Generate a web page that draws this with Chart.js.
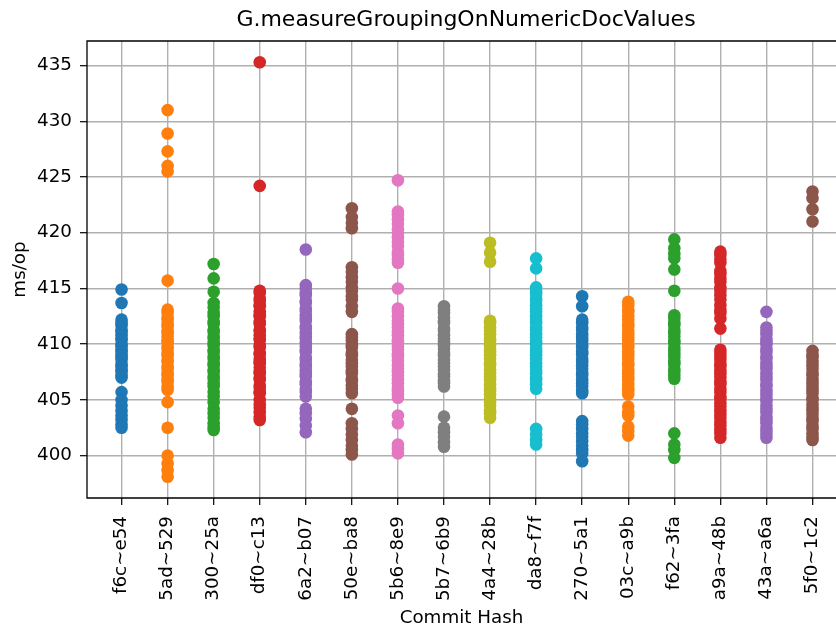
<!DOCTYPE html>
<html>
<head>
<meta charset="utf-8">
<script src="https://cdn.jsdelivr.net/npm/chart.js@4"></script>
<style>
  html, body { margin: 0; padding: 0; background: #fff; overflow: hidden; }
  #wrap { width: 836px; height: 631px; }
</style>
</head>
<body>
<div id="wrap"><canvas id="c" width="836" height="631"></canvas></div>
<script>
// Commit ranges on the x axis
const commits = ['f6c~e54', '5ad~529', '300~25a', 'df0~c13', '6a2~b07', '50e~ba8', '5b6~8e9', '5b7~6b9',
                 '4a4~28b', 'da8~f7f', '270~5a1', '03c~a9b', 'f62~3fa', 'a9a~48b', '43a~a6a', '5f0~1c2'];

// y-axis tick values (ms/op)
const yTicks = [400, 405, 410, 415, 420, 425, 430, 435];

// Benchmark runs per commit range (ms/op)
const runsF6c = [414.9, 413.7, 412.2, 411.9, 411.7, 411.3, 411.1, 410.8, 410.5, 410.4, 410.0, 409.8, 409.5, 409.3,
                 409.0, 408.8, 408.6, 408.2, 408.0, 407.7, 407.5, 407.2, 407.0, 405.7, 405.0, 404.5, 404.0, 403.6,
                 403.2, 402.8, 402.5];
const runs5ad = [431.0, 428.9, 427.3, 426.0, 425.5, 415.7, 413.1, 412.8, 412.4, 412.2, 411.8, 411.6, 411.2, 411.0,
                 410.7, 410.3, 410.2, 409.8, 409.6, 409.2, 409.0, 408.6, 408.4, 408.0, 407.8, 407.4, 407.2, 406.8,
                 406.6, 406.2, 405.9, 404.8, 402.5, 400.0, 399.3, 398.7, 398.1];
const runs300 = [417.2, 415.9, 414.7, 413.7, 413.3, 412.8, 412.5, 412.0, 411.8, 411.3, 411.1, 410.7, 410.5, 410.1,
                 409.9, 409.5, 409.3, 408.9, 408.7, 408.3, 408.1, 407.7, 407.5, 407.1, 406.9, 406.5, 406.2, 405.7,
                 405.3, 404.8, 404.2, 403.8, 403.4, 402.9, 402.6, 402.3];
const runsDf0 = [435.3, 424.2, 414.8, 414.6, 414.1, 413.9, 413.5, 413.4, 412.9, 412.6, 412.5, 412.0, 411.8, 411.3,
                 411.2, 410.8, 410.5, 410.4, 409.9, 409.7, 409.2, 409.1, 408.7, 408.4, 408.3, 407.9, 407.5, 407.4,
                 407.0, 406.8, 406.3, 406.1, 405.7, 405.6, 405.0, 404.6, 404.3, 403.9, 403.5, 403.2];
const runs6a2 = [418.5, 415.3, 415.0, 414.6, 414.4, 413.9, 413.7, 413.2, 413.0, 412.6, 412.3, 412.1, 411.6, 411.4,
                 411.0, 410.7, 410.5, 410.1, 409.8, 409.5, 409.3, 408.8, 408.6, 408.2, 408.0, 407.6, 407.3, 407.1,
                 406.6, 406.4, 406.0, 405.7, 405.3, 404.2, 403.8, 403.3, 402.7, 402.1];
const runs50e = [422.2, 421.4, 420.9, 420.4, 416.9, 416.5, 416.0, 415.6, 415.1, 414.8, 414.3, 414.0, 413.4, 412.9,
                 410.9, 410.6, 410.3, 409.9, 409.7, 409.2, 409.0, 408.6, 408.3, 408.0, 407.6, 407.4, 406.9, 406.7,
                 406.3, 406.0, 405.6, 404.2, 402.9, 402.4, 401.9, 401.4, 400.9, 400.5, 400.1];
const runs5b6 = [424.7, 421.9, 421.6, 421.2, 420.8, 420.3, 420.0, 419.6, 419.2, 418.8, 418.3, 418.0, 417.6, 417.3,
                 415.0, 413.2, 412.9, 412.5, 412.1, 411.8, 411.5, 411.1, 410.8, 410.4, 410.2, 409.8, 409.5, 409.1,
                 408.9, 408.5, 408.1, 407.8, 407.5, 407.2, 406.8, 406.5, 406.1, 405.8, 405.5, 405.2, 403.6, 402.9,
                 401.0, 400.6, 400.2];
const runs5b7 = [413.4, 413.1, 412.8, 412.4, 412.1, 411.9, 411.4, 411.2, 410.8, 410.5, 410.2, 409.9, 409.6, 409.2,
                 409.0, 408.6, 408.3, 408.0, 407.7, 407.3, 407.1, 406.7, 406.5, 406.2, 403.5, 402.5, 402.1, 401.7,
                 401.2, 400.8];
const runs4a4 = [419.1, 418.2, 417.4, 412.1, 411.9, 411.5, 411.2, 410.9, 410.5, 410.3, 409.9, 409.6, 409.3, 409.0,
                 408.7, 408.3, 408.1, 407.7, 407.4, 407.1, 406.8, 406.4, 406.1, 405.8, 405.5, 405.1, 404.8, 404.5,
                 404.0, 403.8, 403.4];
const runsDa8 = [417.7, 416.8, 415.1, 414.8, 414.5, 414.1, 413.9, 413.5, 413.2, 412.9, 412.5, 412.2, 411.9, 411.5,
                 411.3, 410.9, 410.6, 410.2, 410.0, 409.6, 409.3, 409.0, 408.7, 408.3, 408.0, 407.7, 407.4, 407.0,
                 406.8, 406.4, 406.0, 402.4, 401.9, 401.4, 401.0];
const runs270 = [414.3, 413.4, 412.2, 411.9, 411.5, 411.3, 410.9, 410.6, 410.3, 409.9, 409.7, 409.3, 409.1, 408.7,
                 408.4, 408.1, 407.8, 407.4, 407.2, 406.8, 406.5, 406.2, 405.8, 405.6, 403.1, 402.8, 402.4, 402.0,
                 401.7, 401.3, 400.9, 400.5, 400.2, 399.5];
const runs03c = [413.8, 413.5, 413.1, 412.9, 412.5, 412.2, 411.8, 411.6, 411.2, 410.9, 410.6, 410.3, 409.9, 409.7,
                 409.3, 409.0, 408.7, 408.3, 408.1, 407.7, 407.4, 407.1, 406.8, 406.4, 406.1, 405.8, 405.5, 404.4,
                 403.9, 403.6, 402.6, 402.2, 401.8];
const runsF62 = [419.4, 418.6, 418.1, 417.7, 416.7, 414.8, 412.6, 412.3, 411.9, 411.7, 411.3, 411.0, 410.7, 410.3,
                 410.1, 409.7, 409.4, 409.1, 408.8, 408.4, 408.2, 407.8, 407.5, 407.2, 406.9, 402.0, 401.0, 400.5,
                 399.8];
const runsA9a = [418.3, 418.0, 417.6, 417.3, 416.6, 416.3, 415.9, 415.6, 415.1, 414.8, 414.4, 414.0, 413.5, 413.1,
                 412.8, 412.3, 411.4, 409.5, 409.2, 408.9, 408.6, 408.2, 408.0, 407.6, 407.3, 407.0, 406.6, 406.4,
                 406.0, 405.7, 405.3, 405.1, 404.7, 404.4, 404.0, 403.7, 403.4, 403.0, 402.7, 402.3, 402.0, 401.6];
const runs43a = [412.9, 411.5, 411.2, 410.9, 410.5, 410.2, 410.0, 409.6, 409.3, 408.9, 408.7, 408.3, 408.0, 407.8,
                 407.4, 407.1, 406.8, 406.4, 406.2, 405.8, 405.5, 405.2, 404.9, 404.5, 404.2, 403.9, 403.5, 403.2,
                 402.9, 402.5, 402.2, 401.9, 401.6];
const runs5f0 = [423.7, 423.1, 422.1, 421.0, 409.4, 409.0, 408.8, 408.4, 408.1, 407.8, 407.4, 407.2, 406.8, 406.5,
                 406.2, 405.9, 405.6, 405.2, 405.0, 404.6, 404.3, 404.0, 403.7, 403.3, 403.1, 402.7, 402.4, 402.0,
                 401.7, 401.4];

const series = [runsF6c, runs5ad, runs300, runsDf0, runs6a2, runs50e, runs5b6, runs5b7,
                runs4a4, runsDa8, runs270, runs03c, runsF62, runsA9a, runs43a, runs5f0];

// tab10 colour cycle
const palette = ['#1f77b4', '#ff7f0e', '#2ca02c', '#d62728', '#9467bd',
                 '#8c564b', '#e377c2', '#7f7f7f', '#bcbd22', '#17becf'];

const FONT = 'DejaVu Sans';

const datasets = series.map((vals, i) => ({
  label: commits[i],
  data: vals.map(v => ({ x: i, y: v })),
  backgroundColor: palette[i % palette.length],
  borderColor: palette[i % palette.length],
  pointRadius: 6.3,
  pointBorderWidth: 0,
  pointHoverRadius: 6.3
}));

// Axes frame: top, left and bottom spines (the right spine lies past the canvas edge)
const frame = {
  id: 'frame',
  afterLayout(chart) {
    // centre the title over the full axes box, which extends slightly past the canvas
    const t = chart.titleBlock;
    if (t) { t.left += 4.5; t.right += 4.5; }
  },
  afterDatasetsDraw(chart) {
    const { ctx, chartArea: a } = chart;
    ctx.save();
    ctx.strokeStyle = '#000';
    ctx.lineWidth = 1.3;
    ctx.beginPath();
    ctx.moveTo(a.right + 2, a.top);
    ctx.lineTo(a.left, a.top);
    ctx.lineTo(a.left, a.bottom);
    ctx.lineTo(a.right + 2, a.bottom);
    ctx.stroke();
    ctx.restore();
  }
};

new Chart(document.getElementById('c'), {
  type: 'scatter',
  data: { datasets },
  plugins: [frame],
  options: {
    responsive: false,
    devicePixelRatio: 1,
    animation: false,
    events: [],
    layout: { autoPadding: false, padding: 0 },
    plugins: {
      legend: { display: false },
      tooltip: { enabled: false },
      title: {
        display: true,
        text: 'G.measureGroupingOnNumericDocValues',
        fullSize: false,
        color: '#000',
        font: { family: FONT, size: 22, weight: 'normal', lineHeight: 1.2 },
        padding: { top: 7, bottom: 7.6 }
      }
    },
    scales: {
      x: {
        type: 'linear',
        min: -0.75,
        max: 15.51,
        afterBuildTicks: s => { s.ticks = commits.map((_, i) => ({ value: i })); },
        afterFit: s => { s.height = 133; s.paddingLeft = 0; s.paddingRight = 0; },
        ticks: {
          autoSkip: false,
          minRotation: 90,
          maxRotation: 90,
          padding: 11,
          color: '#000',
          font: { family: FONT, size: 18.3 },
          callback: v => commits[v]
        },
        grid: { color: '#b0b0b0', lineWidth: 1.4, tickColor: '#000', tickLength: 7, tickWidth: 1.2 },
        border: { display: false },
        title: {
          display: true,
          text: 'Commit Hash',
          color: '#000',
          font: { family: FONT, size: 18.3, lineHeight: 1.2 },
          padding: { top: 0, bottom: 2 }
        }
      },
      y: {
        type: 'linear',
        min: 396.2,
        max: 437.2,
        afterBuildTicks: s => { s.ticks = yTicks.map(v => ({ value: v })); },
        afterFit: s => { s.width = 87; s.paddingTop = 0; s.paddingBottom = 0; },
        ticks: {
          padding: 8,
          color: '#000',
          font: { family: FONT, size: 18.3 }
        },
        grid: { color: '#b0b0b0', lineWidth: 1.4, tickColor: '#000', tickLength: 7, tickWidth: 1.2 },
        border: { display: false },
        title: {
          display: true,
          text: 'ms/op',
          color: '#000',
          font: { family: FONT, size: 18.3, lineHeight: 1.2 },
          padding: { top: 9, bottom: 0 }
        }
      }
    }
  }
});
</script>
</body>
</html>
